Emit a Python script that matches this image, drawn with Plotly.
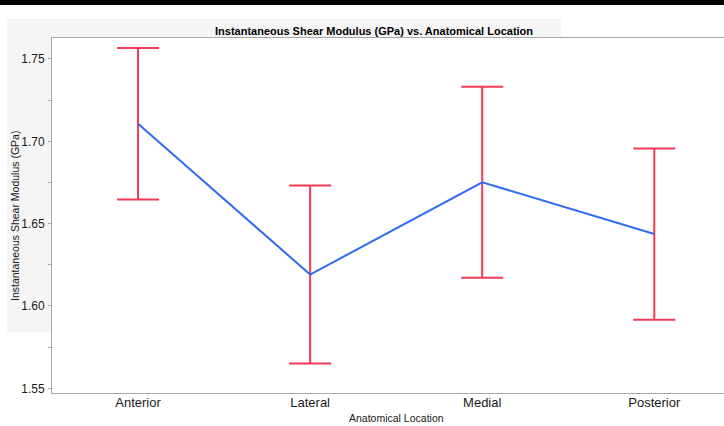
import plotly.graph_objects as go

# Shear modulus by anatomical location (mean with error half-widths)
locations = ["Anterior", "Lateral", "Medial", "Posterior"]
mean_gpa = [1.7107, 1.6191, 1.6751, 1.6437]
err_gpa = [0.046, 0.054, 0.058, 0.052]

y_ticks = [1.55, 1.60, 1.65, 1.70, 1.75]
y_tick_text = ["1.55", "1.60", "1.65", "1.70", "1.75"]

W, H = 724, 426
ML, MR, MT, MB = 52, 0, 38, 33
PW, PH = W - ML - MR, H - MT - MB


def px_x(px):
    return (px - ML) / PW


def px_y(py):
    return (H - MB - py) / PH


RED = "#EF3B55"
BLUE = "#2F6BF2"
AXIS = "#A8A8A8"
PANEL = "#F5F5F5"
TXT = "#1a1a1a"

fig = go.Figure()

# error bars (drawn first so the mean line sits on top)
fig.add_trace(go.Scatter(
    x=locations, y=mean_gpa, mode="markers",
    marker=dict(size=1, opacity=0),
    error_y=dict(type="data", array=err_gpa, symmetric=True,
                 color=RED, thickness=2, width=21),
    hoverinfo="skip", showlegend=False,
))

# mean line
fig.add_trace(go.Scatter(
    x=locations, y=mean_gpa, mode="lines",
    line=dict(color=BLUE, width=2),
    showlegend=False,
))

shapes = [
    # top black strip
    dict(type="rect", xref="paper", yref="paper",
         x0=px_x(0), x1=px_x(W), y0=px_y(5), y1=px_y(0),
         fillcolor="black", line_width=0, layer="below"),
    # gray header/label panel
    dict(type="rect", xref="paper", yref="paper",
         x0=px_x(7), x1=px_x(561), y0=px_y(332), y1=px_y(19),
         fillcolor=PANEL, line_width=0, layer="below"),
    # white plotting area
    dict(type="rect", xref="paper", yref="paper",
         x0=0, x1=1, y0=0, y1=1,
         fillcolor="white", line_width=0, layer="below"),
]

annotations = [
    dict(text="<b>Instantaneous Shear Modulus (GPa) vs. Anatomical Location</b>",
         xref="paper", yref="paper", x=px_x(374), y=px_y(31),
         xanchor="center", yanchor="middle", showarrow=False,
         font=dict(family="Liberation Sans, Arial", size=11, color="black")),
    dict(text="Instantaneous Shear Modulus (GPa)",
         xref="paper", yref="paper", x=px_x(15), y=px_y(216),
         xanchor="center", yanchor="middle", textangle=-90, showarrow=False,
         font=dict(family="Liberation Sans, Arial", size=10.5, color=TXT)),
    dict(text="Anatomical Location",
         xref="paper", yref="paper", x=px_x(396), y=px_y(418),
         xanchor="center", yanchor="middle", showarrow=False,
         font=dict(family="Liberation Sans, Arial", size=10.5, color=TXT)),
]

fig.update_layout(
    width=W, height=H,
    margin=dict(l=ML, r=MR, t=MT, b=MB, pad=0),
    paper_bgcolor="white",
    plot_bgcolor="rgba(0,0,0,0)",
    shapes=shapes,
    annotations=annotations,
    font=dict(family="Liberation Sans, Arial", size=13, color=TXT),
    xaxis=dict(
        type="category", range=[-0.5, 3.405],
        showline=True, linecolor=AXIS, linewidth=1, mirror=True,
        showgrid=False, zeroline=False, ticks="",
        ticklabelstandoff=-3,
        tickfont=dict(size=13, color=TXT),
    ),
    yaxis=dict(
        range=[1.54715, 1.76275],
        tickvals=y_ticks, ticktext=y_tick_text,
        showline=True, linecolor=AXIS, linewidth=1, mirror=False,
        showgrid=False, zeroline=False,
        ticks="outside", ticklen=3, tickcolor=AXIS, tickwidth=1,
        ticklabelstandoff=1,
        tickfont=dict(size=12, color=TXT),
        minor=dict(tickvals=[1.575, 1.625, 1.675, 1.725], ticks="outside",
                   ticklen=3, tickcolor=AXIS, showgrid=False),
    ),
)

fig.write_html("out.html")
